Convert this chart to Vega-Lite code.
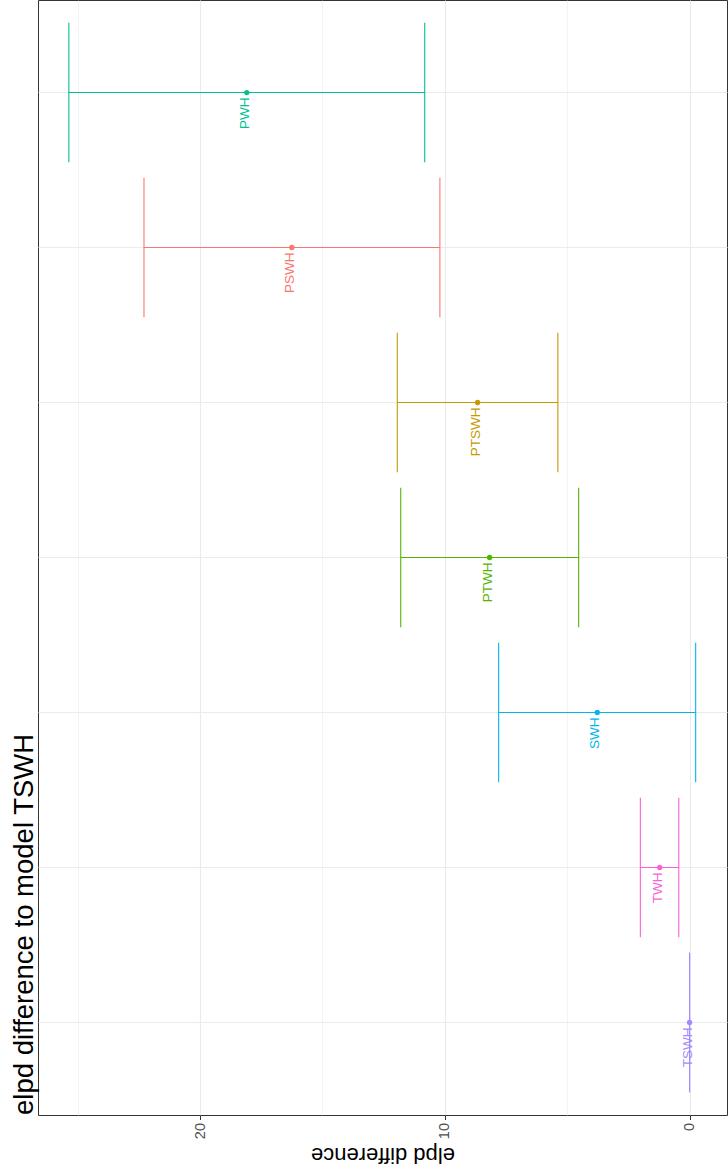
{
  "$schema": "https://vega.github.io/schema/vega-lite/v6.json",
  "width": 689,
  "height": 1115,
  "autosize": {"type": "none"},
  "padding": {"left": 38, "top": 0, "right": 1, "bottom": 54},
  "background": "white",
  "config": {"font": "Liberation Sans", "view": {"stroke": "#333333", "strokeWidth": 1}},
  "title": {"text": "elpd difference to model TSWH", "orient": "left", "anchor": "start", "frame": "group", "fontSize": 27.5, "fontWeight": "normal", "color": "black", "offset": 0, "font": "Liberation Sans"},
  "data": {"values": [
    {"model": "PWH", "lower": 10.82, "upper": 25.36, "est": 18.09},
    {"model": "PSWH", "lower": 10.20, "upper": 22.29, "est": 16.25},
    {"model": "PTSWH", "lower": 5.38, "upper": 11.94, "est": 8.66},
    {"model": "PTWH", "lower": 4.53, "upper": 11.80, "est": 8.17},
    {"model": "SWH", "lower": -0.25, "upper": 7.80, "est": 3.77},
    {"model": "TWH", "lower": 0.44, "upper": 2.01, "est": 1.22},
    {"model": "TSWH", "lower": 0, "upper": 0, "est": 0}
  ]},
  "encoding": {
    "y": {"field": "model", "type": "nominal", "sort": ["PWH", "PSWH", "PTSWH", "PTWH", "SWH", "TWH", "TSWH"],
      "scale": {"type": "band", "paddingInner": 0, "paddingOuter": 0.097},
      "axis": {"title": null, "labels": false, "ticks": false, "domain": false, "grid": true, "gridColor": "#EBEBEB", "gridWidth": 1.1, "bandPosition": 0.5}},
    "color": {"field": "model", "type": "nominal",
      "scale": {"domain": ["PSWH", "PTSWH", "PTWH", "PWH", "SWH", "TSWH", "TWH"], "range": ["#F8766D", "#C49A00", "#53B400", "#00C094", "#00B6EB", "#A58AFF", "#FB61D7"]},
      "legend": null}
  },
  "layer": [
    {
      "mark": {"type": "rule", "strokeWidth": 1.1},
      "encoding": {
        "y": {"field": "model", "type": "nominal", "bandPosition": 0.5, "sort": ["PWH", "PSWH", "PTSWH", "PTWH", "SWH", "TWH", "TSWH"]},
        "x": {"field": "lower", "type": "quantitative", "title": "elpd difference",
          "scale": {"domain": [-1.53, 26.62], "reverse": true, "nice": false, "zero": false},
          "axis": {"values": [0, 5, 10, 15, 20, 25], "labelExpr": "datum.value % 10 === 0 ? datum.label : ''", "labelAngle": 270, "labelFontSize": 14.5, "labelColor": "#4D4D4D", "labelPadding": 3, "tickSize": 4.5, "tickColor": "#333333", "tickOpacity": {"condition": {"test": "datum.value % 10 === 0", "value": 1}, "value": 0}, "gridColor": "#EBEBEB", "gridWidth": {"condition": {"test": "datum.value % 10 === 0", "value": 1.1}, "value": 0.6}, "domain": false, "titleAngle": 180, "titleBaseline": "bottom", "titleFontSize": 22, "titleFontWeight": "normal", "titleColor": "black", "titlePadding": 4}},
        "x2": {"field": "upper"}
      }
    },
    {
      "mark": {"type": "rule", "strokeWidth": 1.1},
      "encoding": {
        "x": {"field": "lower", "type": "quantitative", "title": "elpd difference"},
        "y": {"field": "model", "type": "nominal", "bandPosition": 0.05, "sort": ["PWH", "PSWH", "PTSWH", "PTWH", "SWH", "TWH", "TSWH"]},
        "y2": {"field": "model", "bandPosition": 0.95}
      }
    },
    {
      "mark": {"type": "rule", "strokeWidth": 1.1},
      "encoding": {
        "x": {"field": "upper", "type": "quantitative", "title": "elpd difference"},
        "y": {"field": "model", "type": "nominal", "bandPosition": 0.05, "sort": ["PWH", "PSWH", "PTSWH", "PTWH", "SWH", "TWH", "TSWH"]},
        "y2": {"field": "model", "bandPosition": 0.95}
      }
    },
    {
      "mark": {"type": "point", "filled": true, "size": 28, "opacity": 1},
      "encoding": {
        "x": {"field": "est", "type": "quantitative", "title": "elpd difference"}
      }
    },
    {
      "mark": {"type": "text", "angle": 270, "align": "right", "baseline": "middle", "dx": -5, "dy": -2, "fontSize": 13.5, "font": "Liberation Sans"},
      "encoding": {
        "x": {"field": "est", "type": "quantitative", "title": "elpd difference"},
        "text": {"field": "model"}
      }
    }
  ]
}
